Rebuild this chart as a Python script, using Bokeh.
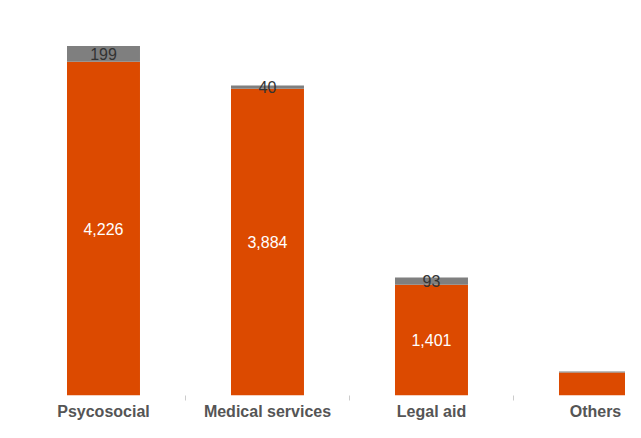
from bokeh.plotting import figure
from bokeh.models import ColumnDataSource, Range1d, FixedTicker
from bokeh.core.properties import value
from bokeh.embed import file_html
from bokeh.resources import INLINE

categories = ["Psycosocial", "Medical services", "Legal aid", "Others"]
main_values = [4226, 3884, 1401, 290]
extra_values = [199, 40, 93, 14]
show_labels = [True, True, True, False]

xs = list(range(len(categories)))
tops = [m + e for m, e in zip(main_values, extra_values)]
src = ColumnDataSource(dict(
    x=xs,
    main=main_values,
    extra=extra_values,
    top=tops,
    main_mid=[m / 2 for m in main_values],
    extra_mid=[m + e / 2 for m, e in zip(main_values, extra_values)],
    main_lbl=[f"{m:,}" if s else "" for m, s in zip(main_values, show_labels)],
    extra_lbl=[f"{e:,}" if s else "" for e, s in zip(extra_values, show_labels)],
))

p = figure(width=625, height=422, output_backend="svg", toolbar_location=None,
           x_range=Range1d(-0.628, 3.183), y_range=Range1d(0, 5000),
           min_border_left=0, min_border_right=0, min_border_top=0,
           outline_line_color=None)
p.background_fill_color = "white"
p.border_fill_color = "white"

p.vbar(x="x", bottom=0, top="main", width=0.445, source=src,
       fill_color="#DC4A00", line_color=None)
p.vbar(x="x", bottom="main", top="top", width=0.445, source=src,
       fill_color="#7F7F7F", line_color=None)

p.text(x="x", y="main_mid", text="main_lbl", source=src,
       text_align="center", text_baseline="middle", text_color="white",
       text_font=value("Liberation Sans"), text_font_size="16px")
p.text(x="x", y="extra_mid", text="extra_lbl", source=src,
       text_align="center", text_baseline="middle", text_color="#333333",
       text_font=value("Liberation Sans"), text_font_size="16px")

p.yaxis.visible = False
p.grid.visible = False

ax = p.xaxis[0]
ax.ticker = FixedTicker(ticks=xs, minor_ticks=[x + 0.5 for x in xs[:-1]])
ax.major_label_overrides = {x: c for x, c in zip(xs, categories)}
ax.axis_line_color = None
ax.major_tick_line_color = None
ax.major_tick_out = 0
ax.major_tick_in = 0
ax.minor_tick_line_color = "#CCCCCC"
ax.minor_tick_out = 5
ax.minor_tick_in = 0
ax.major_label_standoff = 2
ax.major_label_text_font = "Liberation Sans"
ax.major_label_text_font_style = "bold"
ax.major_label_text_font_size = "16px"
ax.major_label_text_color = "#555555"

open("out.html", "w").write(file_html(p, INLINE))
